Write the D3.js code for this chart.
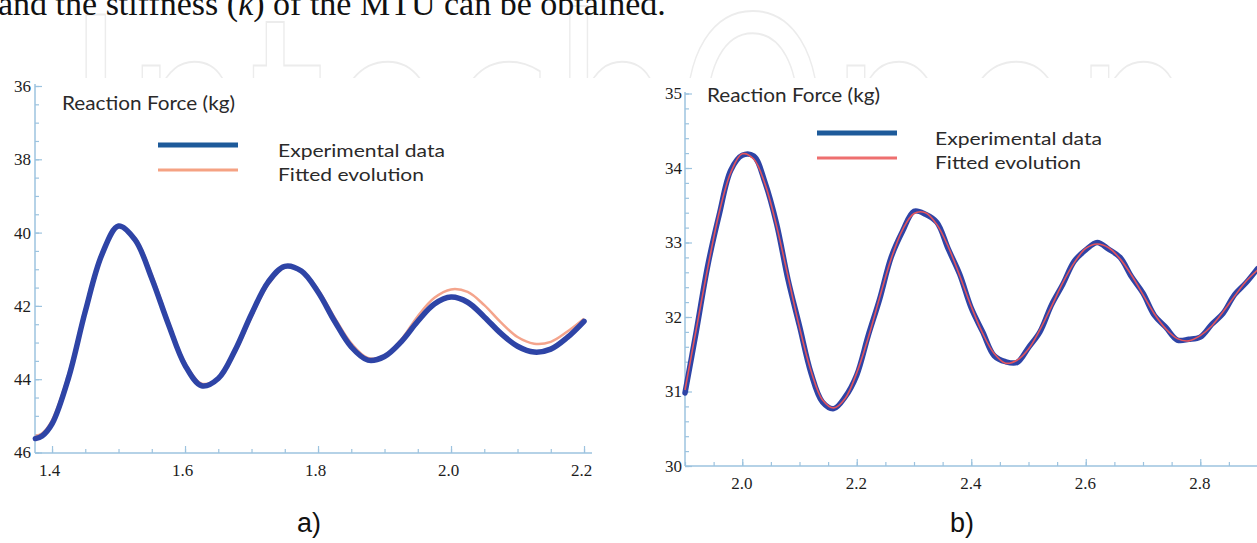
<!DOCTYPE html>
<html>
<head>
<meta charset="utf-8">
<script src="https://cdn.jsdelivr.net/npm/d3@7/dist/d3.min.js"></script>
<style>
  html, body { margin: 0; padding: 0; background: #fff; }
  svg { display: block; }
  .ticklab { font-family: "Liberation Serif", serif; font-size: 17px; }
</style>
</head>
<body>
<svg id="chart" width="1257" height="543"></svg>
<script>
// ---------------- DATA ----------------
// Chart a) reaction force (kg) vs time, reversed y axis
const leftX   = [1.375,1.385,1.40,1.425,1.45,1.475,1.50,1.525,1.55,1.575,1.60,1.625,1.65,1.675,1.70,1.725,1.75,1.775,1.80,1.825,1.85,1.875,1.90,1.925,1.95,1.975,2.00,2.025,2.05,2.075,2.10,2.125,2.15,2.175,2.20];
const leftExp = [45.62,45.55,45.22,43.95,42.15,40.60,39.82,40.20,41.25,42.50,43.62,44.18,43.98,43.22,42.22,41.35,40.92,41.05,41.62,42.42,43.12,43.48,43.38,42.98,42.42,41.95,41.76,41.90,42.30,42.75,43.10,43.26,43.18,42.86,42.42];
const leftFit = [45.55,45.48,45.12,43.85,42.05,40.55,39.85,40.15,41.15,42.42,43.55,44.12,43.98,43.28,42.30,41.42,40.95,41.02,41.55,42.32,43.02,43.42,43.36,42.92,42.28,41.78,41.55,41.62,41.98,42.45,42.85,43.03,42.98,42.70,42.35];

// Chart b)
const rightX   = [1.90,1.92,1.94,1.96,1.98,2.00,2.02,2.04,2.06,2.08,2.10,2.12,2.14,2.16,2.18,2.20,2.22,2.24,2.26,2.28,2.30,2.32,2.34,2.36,2.38,2.40,2.42,2.44,2.46,2.48,2.50,2.52,2.54,2.56,2.58,2.60,2.62,2.64,2.66,2.68,2.70,2.72,2.74,2.76,2.78,2.80,2.82,2.84,2.86,2.88,2.90];
const rightExp = [30.98,31.82,32.70,33.38,33.97,34.17,34.16,33.80,33.25,32.50,31.88,31.25,30.86,30.77,30.93,31.22,31.75,32.24,32.80,33.15,33.42,33.38,33.27,32.91,32.57,32.12,31.80,31.48,31.40,31.39,31.59,31.80,32.16,32.44,32.75,32.90,33.00,32.91,32.80,32.54,32.32,32.02,31.86,31.69,31.70,31.73,31.90,32.05,32.30,32.46,32.65];
const rightFit = [31.02,31.85,32.67,33.41,33.94,34.19,34.12,33.78,33.22,32.54,31.86,31.28,30.89,30.78,30.91,31.25,31.72,32.26,32.78,33.17,33.39,33.40,33.24,32.94,32.55,32.14,31.78,31.51,31.38,31.42,31.57,31.83,32.14,32.46,32.73,32.92,32.98,32.93,32.78,32.56,32.30,32.04,31.84,31.71,31.68,31.75,31.88,32.07,32.28,32.48,32.63];

// Tick labels
const leftXTicks  = [1.4, 1.6, 1.8, 2.0, 2.2];
const leftYTicks  = [36, 38, 40, 42, 44, 46];
const rightXTicks = [2.0, 2.2, 2.4, 2.6, 2.8];
const rightYTicks = [30, 31, 32, 33, 34, 35];

// Texts
const yTitle       = "Reaction Force (kg)";
const seriesNames  = ["Experimental data", "Fitted evolution"];
const panelLabels  = ["a)", "b)"];
const watermark    = "IntechOpen";

// ---------------- DRAW ----------------
const svg = d3.select("#chart");
svg.append("rect").attr("width", 1257).attr("height", 543).attr("fill", "#fff");

// watermark (only visible above the figure)
const defs = svg.append("defs");
defs.append("clipPath").attr("id", "wmclip")
  .append("rect").attr("x", 0).attr("y", 0).attr("width", 1257).attr("height", 78);
svg.append("text")
  .attr("clip-path", "url(#wmclip)")
  .attr("x", 67).attr("y", 218)
  .attr("textLength", 1130).attr("lengthAdjust", "spacingAndGlyphs")
  .attr("font-family", "DejaVu Sans").attr("font-size", 279)
  .attr("fill", "none").attr("stroke", "#ececec").attr("stroke-width", 2)
  .text(watermark);

// cut-off sentence at top
const sentence = svg.append("text").attr("x", -2).attr("y", 15)
  .attr("font-family", "Liberation Serif").attr("font-size", 34).attr("fill", "#111");
sentence.append("tspan").text("and the stiffness (");
sentence.append("tspan").attr("font-style", "italic").text("k");
sentence.append("tspan").text(") of the MTU can be obtained.");

const axisColor = "#9cc3df";
const blue = "#2e44a6";

function drawPanel(cfg) {
  const g = svg.append("g");
  const x = d3.scaleLinear().domain(cfg.xDomain).range(cfg.xRange);
  const y = d3.scaleLinear().domain(cfg.yDomain).range(cfg.yRange);
  const bottom = cfg.xAxisY, left = cfg.yAxisX;

  // minor ticks
  const gxm = g.append("g").attr("transform", `translate(0,${bottom})`)
    .call(d3.axisBottom(x).tickValues(cfg.xMinor).tickSize(-4).tickFormat(""));
  gxm.select(".domain").remove();
  const gym = g.append("g").attr("transform", `translate(${left},0)`)
    .call(d3.axisLeft(y).tickValues(cfg.yMinor).tickSize(-4).tickFormat(""));
  gym.select(".domain").remove();

  // major axes
  const gx = g.append("g").attr("transform", `translate(0,${bottom})`)
    .call(d3.axisBottom(x).tickValues(cfg.xTicks).tickSize(-7).tickSizeOuter(0)
      .tickFormat(d3.format(".1f")));
  gx.attr("font-family", "Liberation Serif").attr("font-size", 17);
  gx.select(".domain").attr("d", `M${cfg.xRange[0]},0H${cfg.xAxisEnd}`);
  gx.selectAll(".tick text").attr("class", "ticklab")
    .attr("y", 23).attr("dy", null).attr("dx", cfg.xLabelDx).attr("fill", "#1d1d1d");

  const gy = g.append("g").attr("transform", `translate(${left},0)`)
    .call(d3.axisLeft(y).tickValues(cfg.yTicks).tickSize(-7).tickSizeOuter(0)
      .tickFormat(d3.format("d")));
  gy.attr("font-family", "Liberation Serif").attr("font-size", 17);
  gy.select(".domain").attr("d", `M0,${cfg.yAxisTop}V${bottom}`);
  gy.selectAll(".tick text").attr("class", "ticklab")
    .attr("x", -cfg.yLabelPad).attr("fill", "#1d1d1d");

  g.selectAll(".domain").attr("stroke", axisColor).attr("stroke-width", 1.5);
  g.selectAll(".tick line").attr("stroke", axisColor).attr("stroke-width", 1.2);

  // lines
  const lineGen = d3.line().x((d, i) => x(cfg.xs[i])).y(d => y(d)).curve(d3.curveCatmullRom.alpha(0.5));
  const drawFit = () => g.append("path").datum(cfg.fit).attr("fill", "none")
      .attr("stroke", cfg.fitColor).attr("stroke-width", cfg.fitWidth)
      .attr("stroke-linejoin", "round").attr("d", lineGen);
  if (!cfg.fitOnTop) drawFit();
  g.append("path").datum(cfg.exp).attr("fill", "none")
    .attr("stroke", blue).attr("stroke-width", 5.5)
    .attr("stroke-linejoin", "round").attr("stroke-linecap", "round").attr("d", lineGen);
  if (cfg.fitOnTop) drawFit();

  // legend / title texts
  const sans = "Lato";
  g.append("text").attr("x", cfg.titleX).attr("y", cfg.titleY)
    .attr("textLength", 173).attr("lengthAdjust", "spacingAndGlyphs")
    .attr("font-family", sans).attr("font-size", 19).attr("fill", "#2a2a2a")
    .text(yTitle);
  g.append("line").attr("x1", cfg.legX).attr("x2", cfg.legX + 80)
    .attr("y1", cfg.legY).attr("y2", cfg.legY)
    .attr("stroke", "#1d5a9a").attr("stroke-width", 5);
  g.append("line").attr("x1", cfg.legX).attr("x2", cfg.legX + 80)
    .attr("y1", cfg.legY + 25).attr("y2", cfg.legY + 25)
    .attr("stroke", cfg.legFitColor).attr("stroke-width", 3);
  g.append("text").attr("x", cfg.legTextX).attr("y", cfg.legY + 12)
    .attr("textLength", 167).attr("lengthAdjust", "spacingAndGlyphs")
    .attr("font-family", sans).attr("font-size", 18).attr("fill", "#2a2a2a")
    .text(seriesNames[0]);
  g.append("text").attr("x", cfg.legTextX).attr("y", cfg.legY + 36)
    .attr("textLength", 146).attr("lengthAdjust", "spacingAndGlyphs")
    .attr("font-family", sans).attr("font-size", 18).attr("fill", "#2a2a2a")
    .text(seriesNames[1]);

  svg.append("text").attr("x", cfg.panelX).attr("y", 532)
    .attr("text-anchor", "middle")
    .attr("font-family", "Liberation Sans").attr("font-size", 27).attr("fill", "#111")
    .text(cfg.panel);
}

drawPanel({
  xs: leftX, exp: leftExp, fit: leftFit,
  xDomain: [1.3744, 2.212], xRange: [35, 592], xAxisEnd: 592,
  yDomain: [36, 46], yRange: [86, 452.5],
  xAxisY: 453, yAxisX: 35, yAxisTop: 84,
  xTicks: leftXTicks, yTicks: leftYTicks,
  xMinor: d3.range(1.4, 2.2001, 0.05), yMinor: d3.range(36, 46.001, 0.5),
  xLabelDx: -3, yLabelPad: 4,
  fitColor: "#f4a48c", fitWidth: 2.5, fitOnTop: false, legFitColor: "#f5a283",
  titleX: 62, titleY: 110, legX: 158, legY: 145, legTextX: 278,
  panelX: 309, panel: panelLabels[0]
});

drawPanel({
  xs: rightX, exp: rightExp, fit: rightFit,
  xDomain: [1.9, 2.9], xRange: [685, 1257.5], xAxisEnd: 1257.5,
  yDomain: [30, 35], yRange: [466, 93.5],
  xAxisY: 466, yAxisX: 685, yAxisTop: 92,
  xTicks: rightXTicks, yTicks: rightYTicks,
  xMinor: d3.range(1.9, 2.9001, 0.05), yMinor: d3.range(30, 35.001, 0.2),
  xLabelDx: -1, yLabelPad: 3,
  fitColor: "#e4545c", fitWidth: 1.6, fitOnTop: true, legFitColor: "#ee6f6f",
  titleX: 707, titleY: 102, legX: 817, legY: 133, legTextX: 935,
  panelX: 962, panel: panelLabels[1]
});
</script>
</body>
</html>
